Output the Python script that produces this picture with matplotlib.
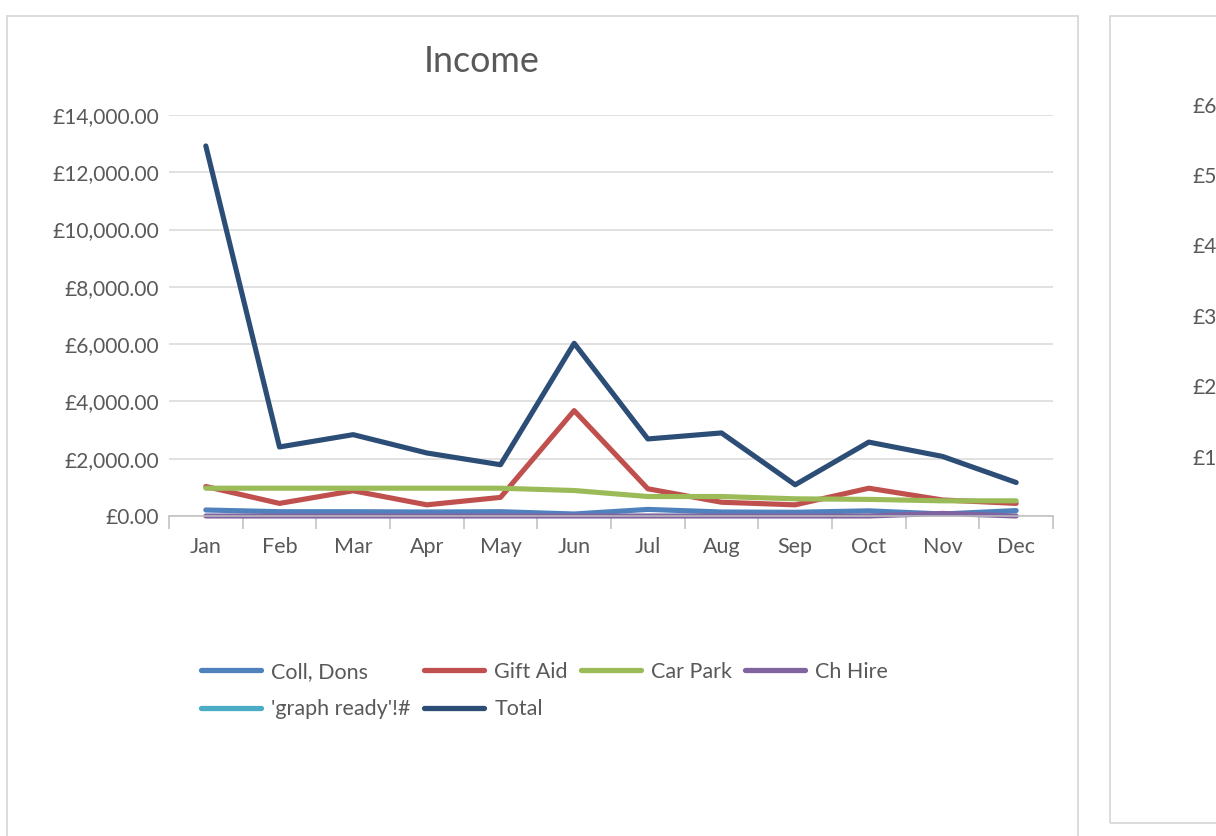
import numpy as np
import matplotlib
matplotlib.use("Agg")
import matplotlib.pyplot as plt
from matplotlib.patches import Rectangle
from matplotlib.ticker import FuncFormatter, MultipleLocator

# ---- data ----
months = ["Jan", "Feb", "Mar", "Apr", "May", "Jun", "Jul", "Aug", "Sep", "Oct", "Nov", "Dec"]
coll_dons = [210, 150, 150, 140, 150, 70, 230, 140, 130, 180, 70, 190]
gift_aid = [1030, 440, 880, 390, 650, 3680, 950, 480, 390, 970, 560, 440]
car_park = [970, 970, 970, 970, 970, 890, 680, 680, 600, 580, 530, 530]
ch_hire = [0, 0, 0, 0, 0, 0, 0, 0, 0, 0, 90, 0]
graph_ready = [np.nan] * 12
total = [12920, 2410, 2840, 2200, 1790, 6030, 2690, 2900, 1090, 2580, 2080, 1170]
series_names = ["Coll, Dons", "Gift Aid", "Car Park", "Ch Hire", "'graph ready'!#", "Total"]
series_colors = ["#4F81BD", "#C0504D", "#9BBB59", "#8064A2", "#4BACC6", "#2C4D75"]
right_chart_labels = ["£6", "£5", "£4", "£3", "£2", "£1"]

W, H = 1216, 836
plt.rcParams["font.family"] = ["Lato", "DejaVu Sans"]
fig = plt.figure(figsize=(W / 100, H / 100), dpi=100)
fig.patch.set_facecolor("white")

def fx(px):
    return px / W

def fy(py):
    return 1 - py / H

# chart borders
fig.add_artist(Rectangle((fx(7), fy(845)), fx(1078) - fx(7), fy(16) - fy(845),
                         transform=fig.transFigure, fill=False, edgecolor="#d9d9d9", lw=1.3))
fig.add_artist(Rectangle((fx(1110), fy(823)), fx(1230) - fx(1110), fy(16) - fy(823),
                         transform=fig.transFigure, fill=False, edgecolor="#d9d9d9", lw=1.3))

# right (partially visible) chart tick labels
right_y = [107, 177, 247, 318, 388, 459]
for lab, yy in zip(right_chart_labels, right_y):
    fig.text(fx(1192), fy(yy), lab, ha="left", va="center", fontsize=15, color="#595959")

# main axes
left, right, top, bottom = 169, 1053, 115, 516
ax = fig.add_axes([fx(left), fy(bottom), fx(right) - fx(left), fy(top) - fy(bottom)])
ax.set_xlim(-0.5, len(months) - 0.5)
ax.set_ylim(0, 14000)

data = [coll_dons, gift_aid, car_park, ch_hire, graph_ready, total]
x = np.arange(len(months))
handles = []
for name, vals, col in zip(series_names, data, series_colors):
    h, = ax.plot(x, vals, color=col, lw=3.7, solid_capstyle="round",
                 solid_joinstyle="round", label=name, clip_on=False)
    handles.append(h)

ax.yaxis.set_major_locator(MultipleLocator(2000))
ax.yaxis.set_major_formatter(FuncFormatter(lambda v, p: f"£{v:,.2f}"))
ax.grid(axis="y", color="#d9d9d9", lw=1.1)
ax.set_axisbelow(True)
for s in ["top", "right", "left"]:
    ax.spines[s].set_visible(False)
ax.spines["bottom"].set_color("#bfbfbf")
ax.spines["bottom"].set_linewidth(1.1)
ax.tick_params(axis="y", length=0, pad=7, labelsize=15, labelcolor="#595959")
ax.set_xticks(x)
ax.set_xticklabels(months)
ax.tick_params(axis="x", which="major", length=0, pad=15, labelsize=15.5, labelcolor="#595959")
ax.set_xticks(np.arange(-0.5, len(months) + 0.5, 1), minor=True)
ax.tick_params(axis="x", which="minor", length=9, width=1.1, color="#bfbfbf", direction="out")

fig.text(fx(482), fy(61), "Income", ha="center", va="center", fontsize=25.8, color="#595959")

# legend (row-major arrangement via column-major ordering)
order = [0, 4, 1, 5, 2, 3]
leg = fig.legend([handles[i] for i in order], [series_names[i] for i in order],
                 loc="upper left", bbox_to_anchor=(fx(201), fy(662)), ncol=4, frameon=False,
                 fontsize=15.5, handlelength=2.8, handletextpad=0.47, columnspacing=0.6,
                 labelspacing=0.8, borderpad=0, borderaxespad=0)
for t in leg.get_texts():
    t.set_color("#595959")
for lh in leg.legend_handles:
    lh.set_linewidth(3.8)

fig.savefig("out.png", dpi=100, facecolor="white")
